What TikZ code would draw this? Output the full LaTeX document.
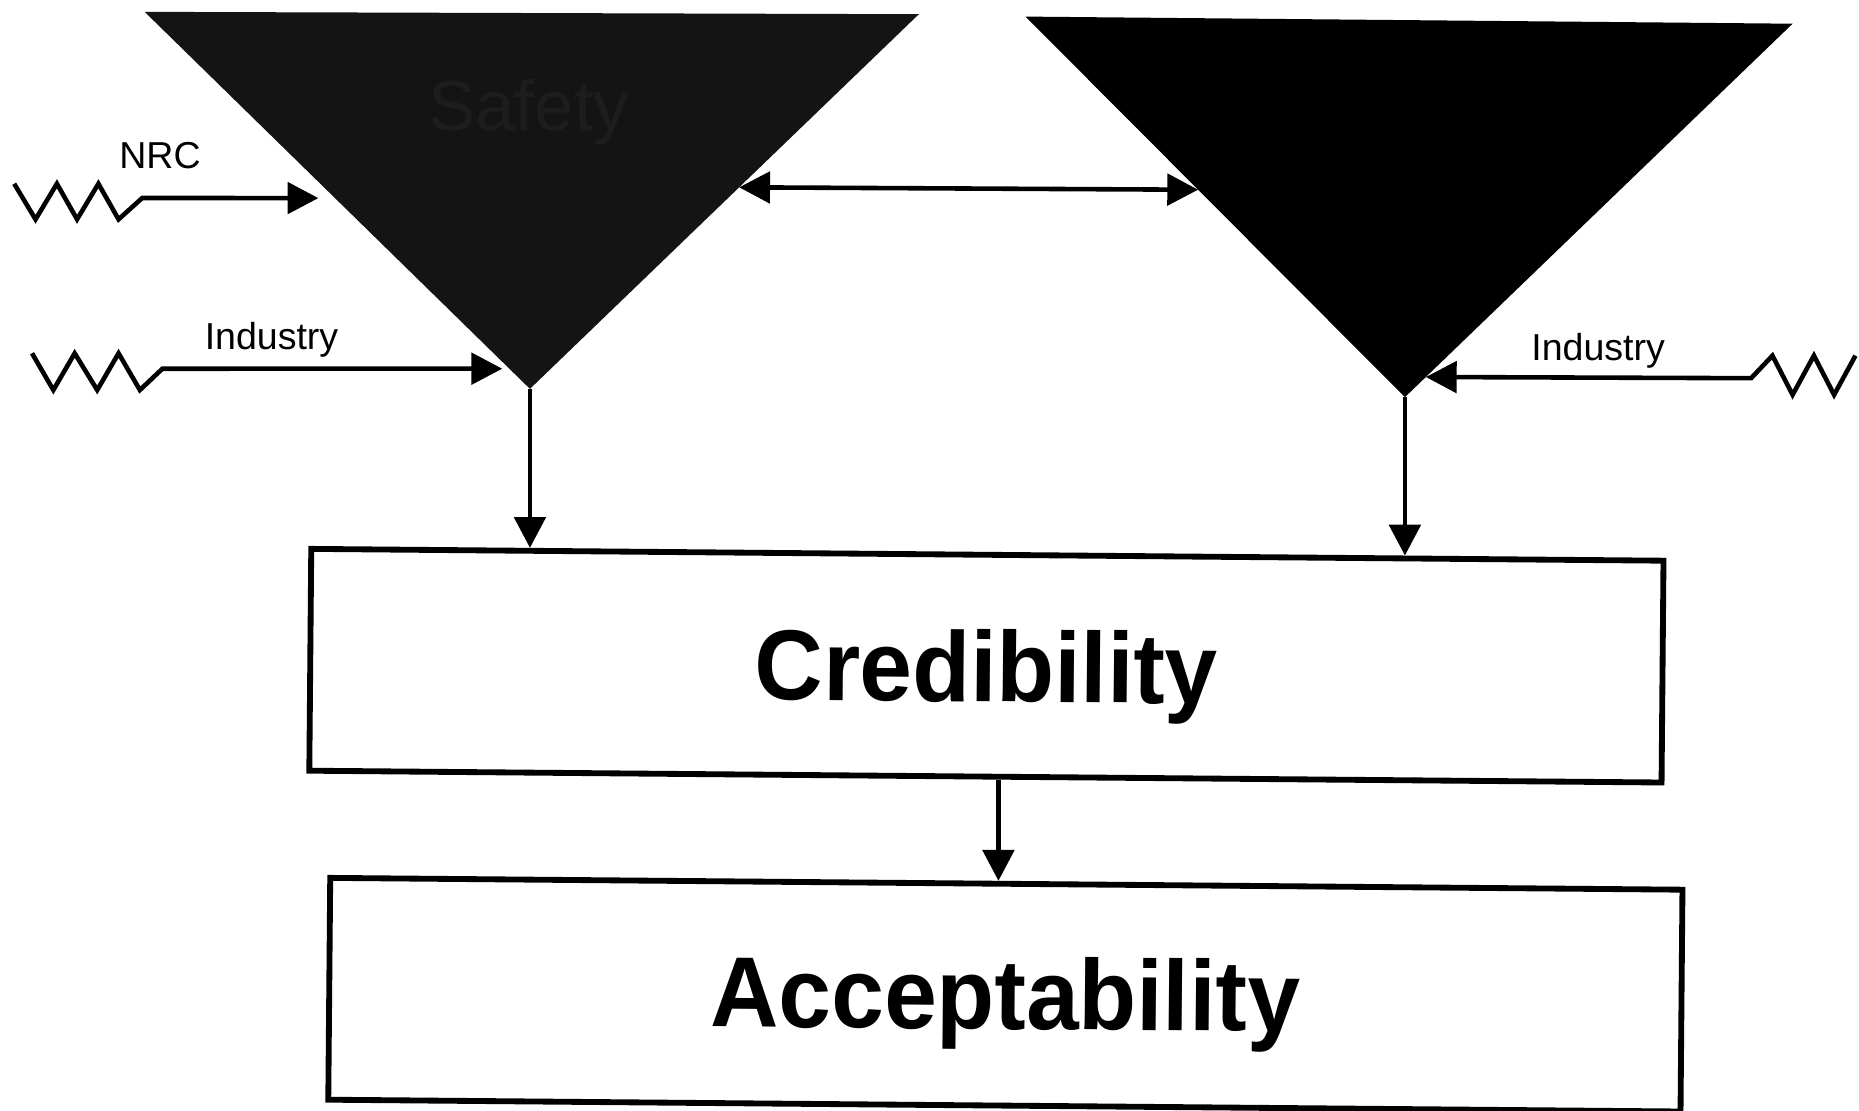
\documentclass[tikz,border=0pt]{standalone}
\usepackage{graphicx}
\usepackage{fontspec}
\setmainfont{Liberation Sans}
\usetikzlibrary{arrows.meta,calc}
\definecolor{safetyfill}{HTML}{141414}
\definecolor{safetytext}{HTML}{1D1D1D}
\begin{document}
\begin{tikzpicture}[x=0.01cm,y=-0.01cm,
  arr/.style={line width=1.1pt,line join=miter,-{Triangle[length=7.4pt,width=7.5pt]}},
  darr/.style={line width=1.1pt,{Triangle[length=7.4pt,width=7.5pt]}-{Triangle[length=7.4pt,width=7.5pt]}},
  lbl/.style={font=\fontsize{9}{10}\selectfont,inner sep=0pt},
  box/.style={draw,line width=1.4pt,rotate=-0.5,minimum width=11.4cm,minimum height=1.87cm,inner sep=0pt,font=\fontsize{23.9}{26}\selectfont\bfseries}
]
\useasboundingbox (0,0) rectangle (1568,937);
\fill[white] (0,0) rectangle (1568,937);
% triangles
\coordinate (L1) at (122,10);
\coordinate (L2) at (775,12);
\coordinate (LA) at (447,328);
\coordinate (R1) at (865,14);
\coordinate (R2) at (1512,20);
\coordinate (RA) at (1185,335);
\fill[safetyfill] (L1) -- (L2) -- (LA) -- cycle;
\node[font=\fontsize{17}{18}\selectfont,text=safetytext] (safety) at (446,95) {Safety};
\fill[black] (R1) -- (R2) -- (RA) -- cycle;
% double arrow between triangles
\coordinate (DA1) at ($(L2)!0.462!(LA)$);
\coordinate (DA2) at ($(R1)!0.455!(RA)$);
\draw[darr] (DA1) -- (DA2);
% NRC input
\coordinate (NT) at ($(L1)!0.494!(LA)+(-14,0)$);
\draw[arr] (12,155) -- (30,185) -- (48,155) -- (65,185) -- (83,155) -- (100,185) -- (120,167) -- (NT);
\node[lbl] (nrc) at (135,131) {NRC};
% Industry left
\coordinate (IT) at ($(L1)!0.9465!(LA)+(-6,0)$);
\draw[arr] (27,298) -- (45,329) -- (63,298) -- (82,329) -- (100,298) -- (118,329) -- (137,311) -- (IT);
\node[lbl] (indl) at (229,287) {Industry};
% Industry right
\coordinate (RT) at ($(R2)!0.946!(RA)$);
\draw[arr] (1565,300) -- (1547,333) -- (1530,300) -- (1512,333) -- (1495,300) -- (1477,319) -- (RT);
\node[lbl] (indr) at (1348,296) {Industry};
% boxes
\node[box,text height=0.7cm,text depth=0.09cm] (cred) at (832,561.5) {\scalebox{0.95}[1]{Credibility}};
\node[box,text height=0.67cm,text depth=0.09cm] (acc) at (848,839) {\scalebox{0.95}[1]{Acceptability}};
% vertical arrows
\coordinate (CT1) at ($(cred.north west)!0.1623!(cred.north east)$);
\coordinate (CT2) at ($(cred.north west)!0.8096!(cred.north east)$);
\coordinate (CB) at ($(cred.south west)!0.5096!(cred.south east)$);
\coordinate (AT) at ($(acc.north west)!0.496!(acc.north east)$);
\draw[arr] (LA) -- (LA |- CT1);
\draw[arr] (RA) -- (RA |- CT2);
\draw[arr] (CB) -- (CB |- AT);
\end{tikzpicture}
\end{document}
